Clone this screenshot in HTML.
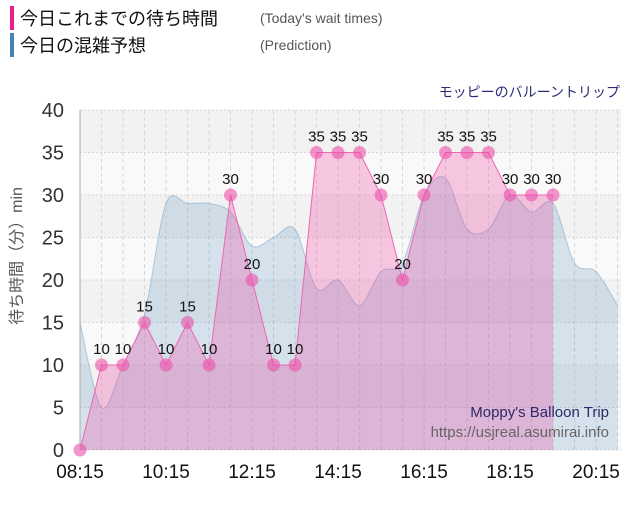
<!DOCTYPE html>
<html><head><meta charset="utf-8"><style>
body{margin:0;background:#fff;font-family:"Liberation Sans","Noto Sans CJK JP",sans-serif;}
svg text{font-family:"Liberation Sans","Noto Sans CJK JP",sans-serif;}
</style></head><body>
<svg id="c" width="640" height="500" xmlns="http://www.w3.org/2000/svg"></svg>
<script>
const times=["08:15","08:45","09:15","09:45","10:15","10:45","11:15","11:45","12:15","12:45","13:15","13:45","14:15","14:45","15:15","15:45","16:15","16:45","17:15","17:45","18:15","18:45","19:15"];
const waits=[0,10,10,15,10,15,10,30,20,10,10,35,35,35,30,20,30,35,35,35,30,30,30];
const predTimes=["08:15","08:45","09:15","09:45","10:15","10:45","11:15","11:45","12:15","12:45","13:15","13:45","14:15","14:45","15:15","15:45","16:15","16:45","17:15","17:45","18:15","18:45","19:15","19:45","20:15","20:45"];
const pred=[15,5,10,16,29,29,29,28,24,25,26,19,20,17,21,22,30,32,26,26,30,28,29,22,21,17];
const xTicks=["08:15","10:15","12:15","14:15","16:15","18:15","20:15"];
const yTicks=[0,5,10,15,20,25,30,35,40];

const NS="http://www.w3.org/2000/svg",svg=document.getElementById('c');
const L=80,R=621,T=110,B=450;
const toMin=t=>{const[a,b]=t.split(':').map(Number);return a*60+b;};
const t0=toMin("08:15"),t1=toMin("08:15")+25.16*30;
const X=t=>L+(toMin(t)-t0)/(t1-t0)*(R-L);
const Y=v=>B-v/40*(B-T);
function el(tag,attrs,parent){const e=document.createElementNS(NS,tag);for(const k in attrs)e.setAttribute(k,attrs[k]);(parent||svg).appendChild(e);return e;}

for(let i=0;i<8;i++){const b=el('rect',{x:L,y:Y((i+1)*5),width:R-L,height:Y(0)-Y(5),fill:i%2?'#f2f2f2':'#f9f9f9'});
}
yTicks.forEach(v=>{const g=el('line',{x1:L,x2:R,y1:Y(v),y2:Y(v),stroke:'#d8d8d8','stroke-dasharray':'2,2'});
});
predTimes.forEach(t=>{const g=el('line',{x1:X(t),x2:X(t),y1:T,y2:B,stroke:'#d8d8d8','stroke-dasharray':'4,3'});
});

const pp=predTimes.map((t,i)=>[X(t),Y(pred[i])]);
let d=`M${pp[0][0]},${pp[0][1]}`;
for(let i=0;i<pp.length-1;i++){const p0=pp[Math.max(0,i-1)],p1=pp[i],p2=pp[i+1],p3=pp[Math.min(pp.length-1,i+2)];
const k=0.16;d+=` C${p1[0]+(p2[0]-p0[0])*k},${p1[1]+(p2[1]-p0[1])*k} ${p2[0]-(p3[0]-p1[0])*k},${p2[1]-(p3[1]-p1[1])*k} ${p2[0]},${p2[1]}`;}
const pa=el('path',{d:d+` L${pp[pp.length-1][0]},${B} L${pp[0][0]},${B}Z`,fill:'rgba(70,130,180,0.2)'});

const pl=el('path',{d:d,fill:'none',stroke:'rgba(70,130,180,0.35)','stroke-width':1});


const wp=times.map((t,i)=>[X(t),Y(waits[i])]);
const wd='M'+wp.map(p=>p.join(',')).join(' L');
const wa=el('path',{d:wd+` L${wp[wp.length-1][0]},${B} L${wp[0][0]},${B}Z`,fill:'rgba(240,80,170,0.3)'});

const wl=el('path',{d:wd,fill:'none',stroke:'#ee66b4','stroke-width':1});

wp.forEach((p,i)=>{const c=el('circle',{cx:p[0],cy:p[1],r:6.5,fill:'rgba(236,80,170,0.6)'});

if(i>0){const tx=el('text',{x:p[0],y:p[1]-11,'text-anchor':'middle','font-size':15,fill:'#111'});tx.textContent=waits[i];
}});

const ax=el('line',{x1:L,x2:L,y1:T,y2:B,stroke:'#aaa'});
yTicks.forEach(v=>{const t=el('text',{x:64,y:Y(v)+7,'text-anchor':'end','font-size':20,fill:'#333'});t.textContent=v;
});
xTicks.forEach(v=>{const t=el('text',{x:X(v),y:478,'text-anchor':'middle','font-size':19,fill:'#111'});t.textContent=v;
});
const yt=el('text',{transform:'translate(22,256) rotate(-90)','text-anchor':'middle','font-size':16,fill:'#555'});yt.textContent='待ち時間（分）min';


const lg=[[8,'#ee1c8c','今日これまでの待ち時間',"(Today's wait times)"],[35,'#4682b4','今日の混雑予想','(Prediction)']];
lg.forEach(([y,c,a,b])=>{const r=el('rect',{x:10,y:y-2,width:4,height:24,fill:c});
const t=el('text',{x:20,y:y+17,'font-size':18,fill:'#111'});t.textContent=a;
const t2=el('text',{x:260,y:y+15,'font-size':14,fill:'#555'});t2.textContent=b;});
const ti=el('text',{x:620,y:97,'text-anchor':'end','font-size':14,fill:'#2a2a7a'});ti.textContent='モッピーのバルーントリップ';

const w1=el('text',{x:609,y:417,'text-anchor':'end','font-size':15,fill:'#2a2a6a'});w1.textContent="Moppy's Balloon Trip";

const w2=el('text',{x:609,y:437,'text-anchor':'end','font-size':15,fill:'#666'});w2.textContent='https://usjreal.asumirai.info';

</script></body></html>
